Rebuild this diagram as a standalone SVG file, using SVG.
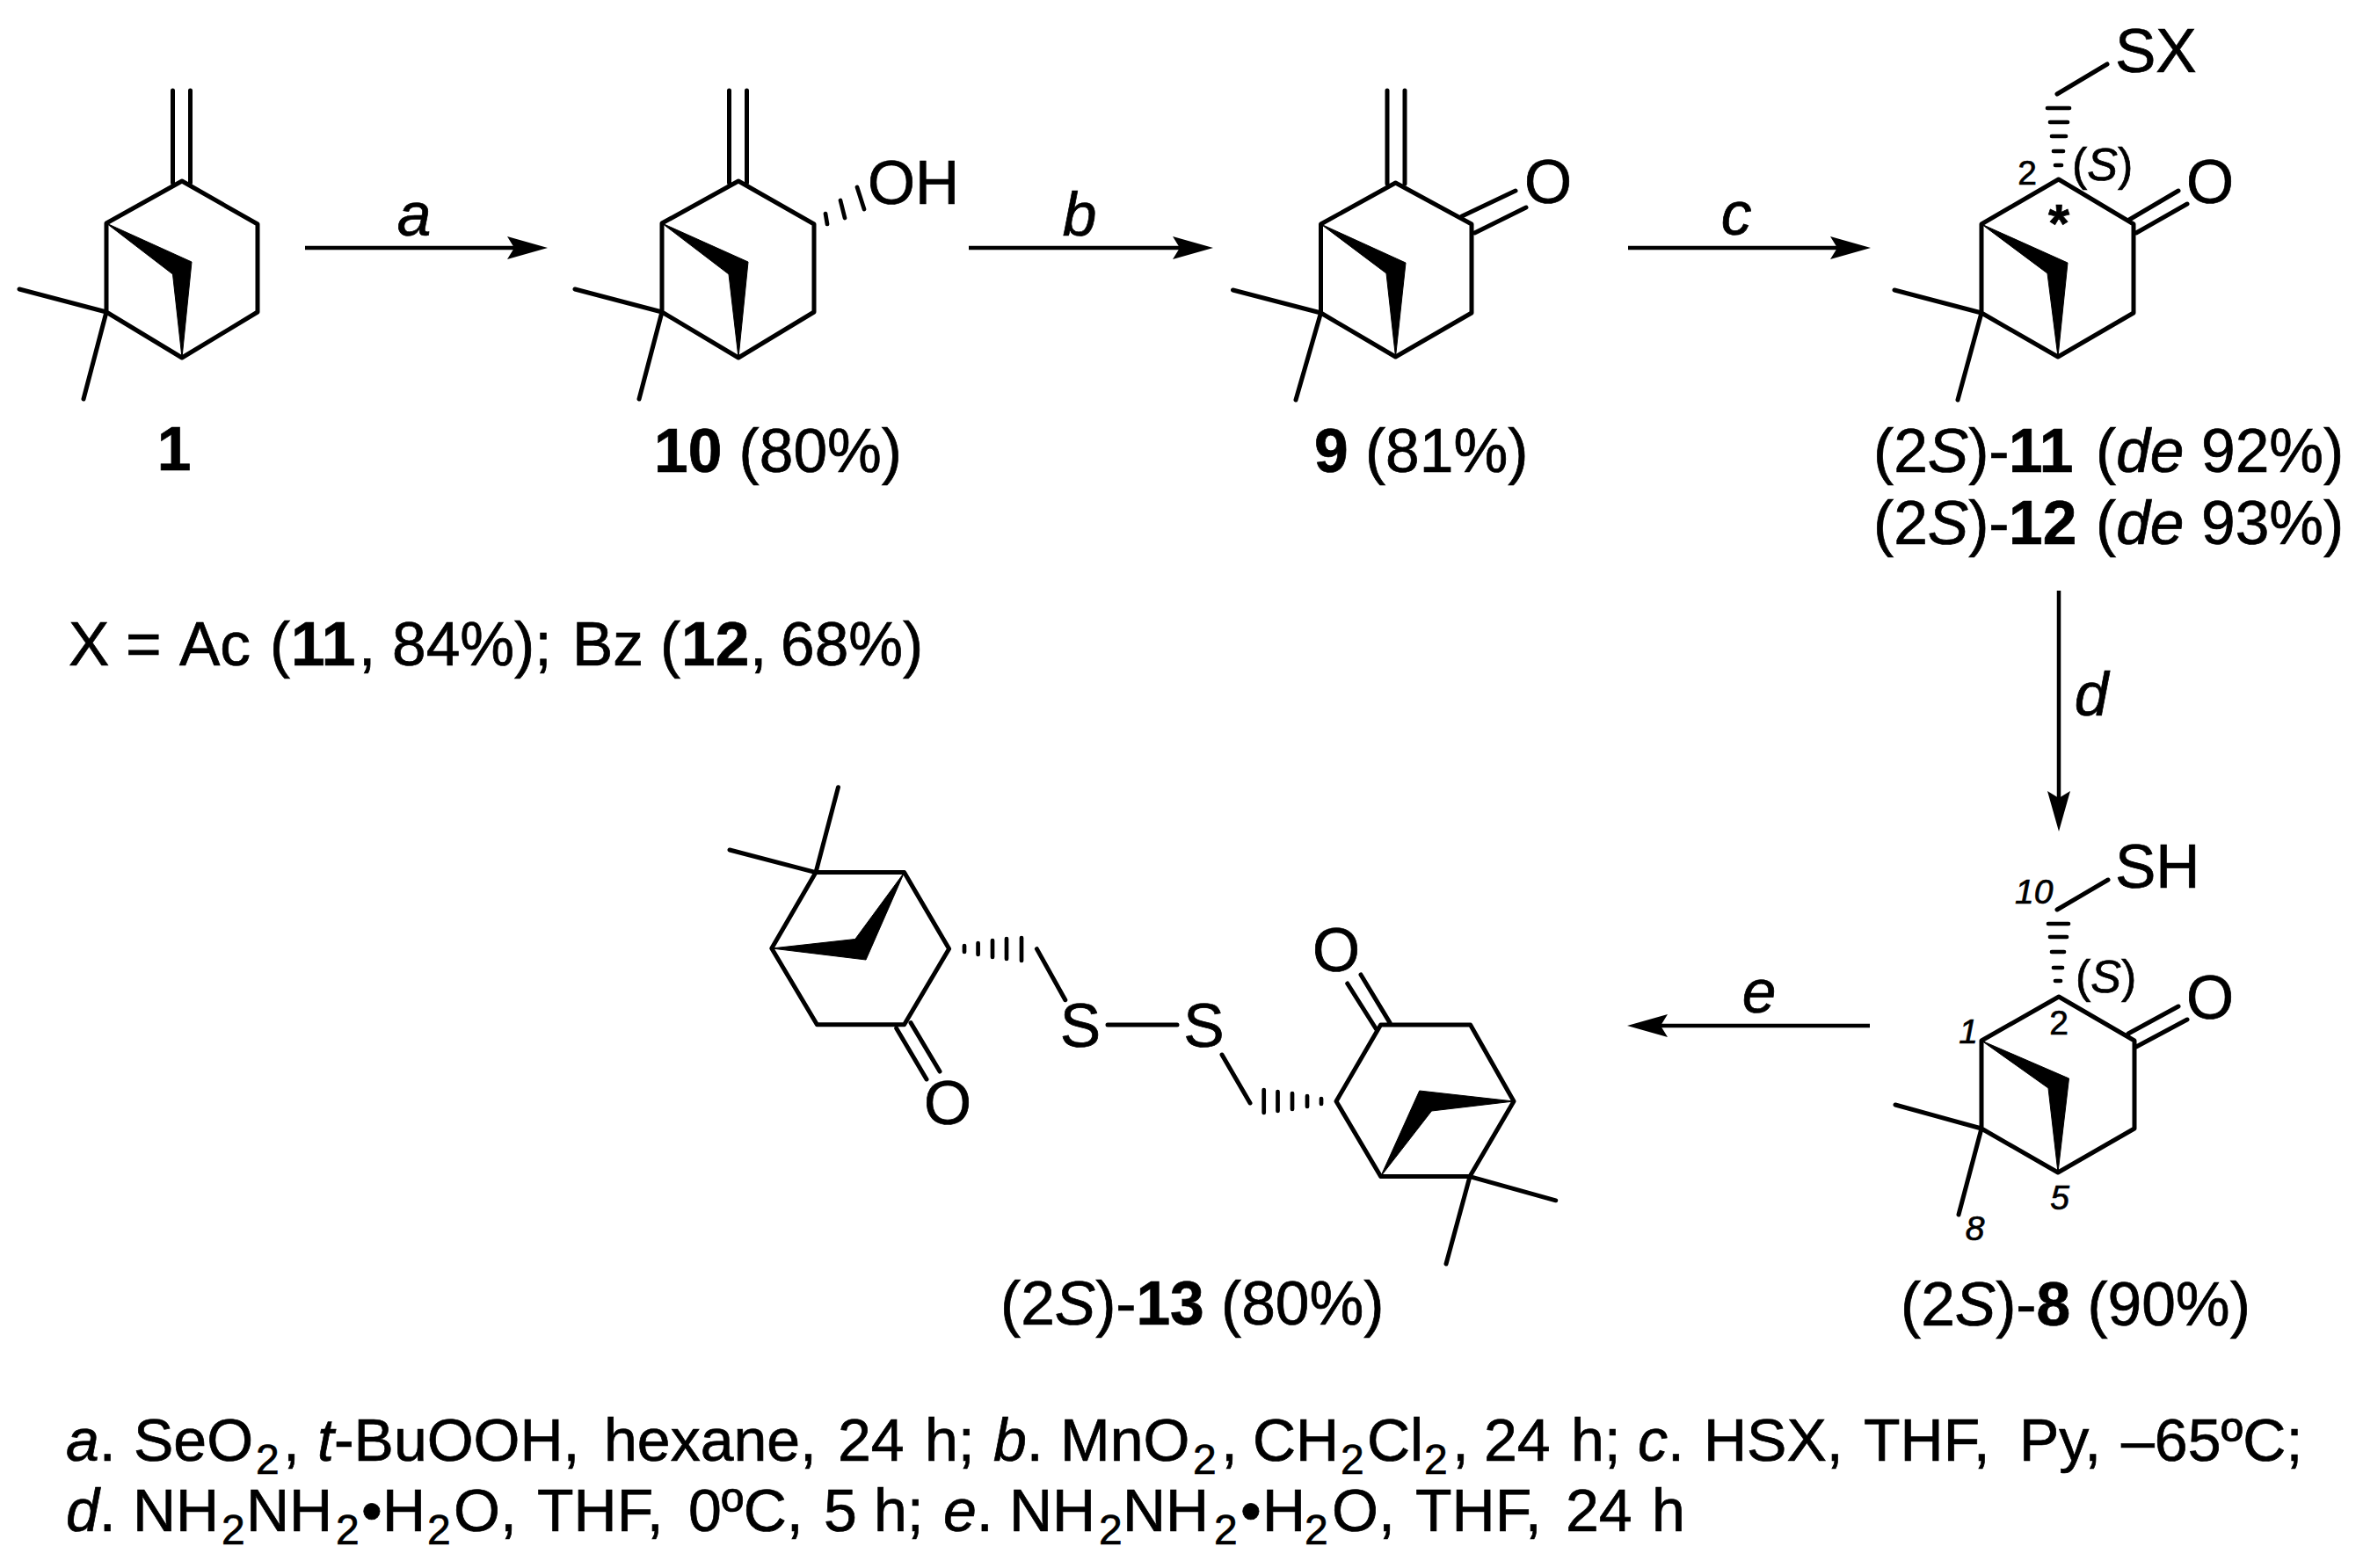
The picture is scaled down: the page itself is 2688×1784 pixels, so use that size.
<svg xmlns="http://www.w3.org/2000/svg" width="2688" height="1784" viewBox="0 0 2688 1784">
<style>
text{font-family:"Liberation Sans",Arial,sans-serif;fill:#000;stroke:#000;stroke-width:.7}
.t{font-size:69.5px}
.m{font-size:52px}
.s{font-size:39px;font-style:italic}
.n{font-size:39px}
.r{font-size:68px}
.u{font-size:48px}
.b{font-weight:bold}
.i{font-style:italic}
.c{text-anchor:middle}
.bond{fill:none;stroke:#000;stroke-width:5;stroke-linecap:round;stroke-linejoin:round}
.hash{fill:none;stroke:#000;stroke-width:4.7;stroke-linecap:round}
.wedge{fill:#000;stroke:#000;stroke-width:1}
.arrow{fill:none;stroke:#000;stroke-width:4.5;marker-end:url(#head)}
</style>
<defs>
<marker id="head" markerUnits="userSpaceOnUse" viewBox="0 0 46 26" refX="8" refY="13" markerWidth="46" markerHeight="26" orient="auto"><path d="M0,0L46,13L0,26L8,13Z" fill="#000"/></marker>
</defs>
<rect width="2688" height="1784" fill="#fff"/>
<g id="connectors">
<line class="arrow" x1="347" y1="282" x2="585" y2="282"/>
<line class="arrow" x1="1102" y1="282" x2="1342" y2="282"/>
<line class="arrow" x1="1852" y1="282" x2="2090" y2="282"/>
<line class="arrow" x1="2342" y1="672" x2="2342" y2="908"/>
<line class="arrow" x1="2127" y1="1167" x2="1889" y2="1167"/>
<text class="t i c" x="471" y="268">a</text>
<text class="t i c" x="1228" y="268">b</text>
<text class="t i c" x="1975" y="267">c</text>
<text class="t i c" x="2379" y="814">d</text>
<text class="t i c" x="2001" y="1152">e</text>
</g>
<g id="node-1">
<path class="bond" d="M207,206L121,254V355L207,407L293,355V255ZM196.5,103V208M216.5,103V208M121,355L22,329M121,355L95,454"/>
<polygon class="wedge" points="121,254 218,298 207,407 196.5,312"/>
<text class="t b c" x="198" y="535">1</text>
</g>
<g id="node-10">
<path class="bond" d="M840,206L753,254V355L840,407L926,355V255ZM829.5,103V208M849.5,103V208M753,355L654,329M753,355L727,454"/>
<polygon class="wedge" points="753,254 851,298 840,407 829,312"/>
<path class="hash" d="M941,255L939,243M961,248L956,228M983,238L975,213"/>
<text class="t" x="987" y="232">OH</text>
<text class="t" x="744" y="537"><tspan class="b">10</tspan> (80%)</text>
</g>
<g id="node-9">
<path class="bond" d="M1587.5,208L1502.5,255V356L1587.5,406L1674,356V255ZM1578,103V209M1598,103V209M1502.5,356L1402.5,330M1502.5,356L1474,455M1663,246L1724,217M1677.5,265L1736,236"/>
<polygon class="wedge" points="1502.5,255 1599,299 1587.5,406 1577,311"/>
<text class="t c" x="1761" y="231">O</text>
<text class="t" x="1495" y="537"><tspan class="b">9</tspan> (81%)</text>
</g>
<g id="node-11">
<path class="bond" d="M2341.7,204L2254,255V356L2341,406L2427,356V255ZM2254,356L2155,330M2254,356L2227,455M2422,250L2478,217M2430,265L2488,232M2340,107L2397,73"/>
<polygon class="wedge" points="2254,255 2352,299 2341,406 2329,311"/>
<path class="hash" d="M2329,123H2354M2332,139H2352M2334,155H2350M2336,172H2347M2338,188H2345"/>
<text class="t" x="2406" y="82">SX</text>
<text class="t c" x="2514" y="231">O</text>
<text class="m" x="2357" y="205">(<tspan class="i">S</tspan>)</text>
<text class="n c" x="2306" y="210">2</text>
<text class="b c" style="font-size:62px" x="2342" y="275">*</text>
<text class="t" y="537"><tspan x="2131">(2<tspan class="i">S</tspan>)-</tspan><tspan x="2285" class="b">11</tspan><tspan x="2384">(<tspan class="i">de</tspan></tspan><tspan x="2504">92%)</tspan></text>
<text class="t" y="619"><tspan x="2131">(2<tspan class="i">S</tspan>)-</tspan><tspan x="2285" class="b">12</tspan><tspan x="2384">(<tspan class="i">de</tspan></tspan><tspan x="2504">93%)</tspan></text>
</g>
<g id="node-8">
<path class="bond" d="M2342,1134L2254,1184V1284L2341,1334L2428,1284V1184ZM2254,1284L2156,1257M2254,1284L2228,1382M2421,1176L2478,1145M2430,1191L2488,1160M2340,1035L2398,1001"/>
<polygon class="wedge" points="2254,1184 2353.5,1227 2341,1334 2330,1238"/>
<path class="hash" d="M2330,1051H2353M2332,1066H2351M2334,1083H2348M2336,1101H2346M2338,1116H2344"/>
<text class="t" x="2406" y="1010">SH</text>
<text class="t c" x="2514" y="1159">O</text>
<text class="m" x="2361" y="1129">(<tspan class="i">S</tspan>)</text>
<text class="s" x="2292" y="1028">10</text>
<text class="n c" x="2342" y="1177">2</text>
<text class="s c" x="2239" y="1187">1</text>
<text class="s c" x="2343" y="1376">5</text>
<text class="s c" x="2246.5" y="1411">8</text>
<text class="t" x="2162" y="1508">(2<tspan class="i">S</tspan>)-<tspan class="b">8</tspan> (90%)</text>
</g>
<g id="node-13">
<path class="bond" d="M928,992.6H1028.6L1079.6,1079.6L1028.6,1165.8H929.4L877.8,1079ZM928,992.6L953.5,895.7M928,992.6L830,967M1019.7,1170L1054,1228M1036,1163.6L1069,1219M1179.4,1079.6L1211.8,1137.7M1260,1166H1339M1390,1200L1422,1255"/>
<path class="bond" d="M1570.6,1166H1672.6L1722,1253L1672,1338.6H1570.6L1520,1253ZM1672,1338.6L1769.7,1365.8M1672,1338.6L1645,1438M1532.7,1119L1566.5,1172.5M1548,1109L1581,1163.6"/>
<polygon class="wedge" points="877.8,1079 972.8,1068.5 1028.6,992.6 985,1092"/>
<polygon class="wedge" points="1722,1253 1614.7,1241 1570.6,1338.6 1628.5,1264"/>
<path class="hash" d="M1097,1076V1083M1112.6,1073V1086M1129,1070V1089M1145,1068V1091M1162,1067V1093M1503,1250V1256M1487,1247V1259M1470,1244V1262M1453.5,1242V1264M1437.7,1240V1266"/>
<text class="t c" x="1078" y="1279">O</text>
<text class="t c" x="1229" y="1191">S</text>
<text class="t c" x="1369.5" y="1191">S</text>
<text class="t c" x="1520" y="1105">O</text>
<text class="t" x="1138" y="1507">(2<tspan class="i">S</tspan>)-<tspan class="b">13</tspan> (80%)</text>
</g>
<g id="note">
<text class="t" y="757"><tspan x="78">X</tspan><tspan x="143">=</tspan><tspan x="204">Ac</tspan><tspan x="307">(</tspan><tspan x="331" class="b">11</tspan><tspan x="408">,</tspan><tspan x="446">84%);</tspan><tspan x="651">Bz</tspan><tspan x="751">(</tspan><tspan x="775" class="b">12</tspan><tspan x="853">,</tspan><tspan x="888">68%)</tspan></text>
</g>
<g id="conditions">
<text class="r" y="1662"><tspan x="75" class="i">a</tspan>.<tspan x="152">SeO</tspan><tspan class="u" x="291" dy="15">2</tspan><tspan x="322" dy="-15">,</tspan><tspan x="361" class="i">t</tspan>-BuOOH,<tspan x="687">hexane,</tspan><tspan x="953">24</tspan><tspan x="1052">h;</tspan><tspan x="1130" class="i">b</tspan>.<tspan x="1206">MnO</tspan><tspan class="u" x="1357" dy="15">2</tspan><tspan x="1389" dy="-15">,</tspan><tspan x="1425">CH</tspan><tspan class="u" x="1525" dy="15">2</tspan><tspan x="1555" dy="-15">Cl</tspan><tspan class="u" x="1620" dy="15">2</tspan><tspan x="1652" dy="-15">,</tspan><tspan x="1688">24</tspan><tspan x="1787">h;</tspan><tspan x="1863" class="i">c</tspan>.<tspan x="1938">HSX,</tspan><tspan x="2120">THF,</tspan><tspan x="2297">Py,</tspan><tspan x="2413">–65ºC;</tspan></text>
<text class="r" y="1742"><tspan x="75" class="i">d</tspan>.<tspan x="151">NH</tspan><tspan class="u" x="252" dy="15">2</tspan><tspan x="280" dy="-15">NH</tspan><tspan class="u" x="382" dy="15">2</tspan><tspan x="411" dy="-15">•</tspan><tspan x="435">H</tspan><tspan class="u" x="486" dy="15">2</tspan><tspan x="516" dy="-15">O,</tspan><tspan x="611">THF,</tspan><tspan x="783">0ºC,</tspan><tspan x="937">5</tspan><tspan x="994">h;</tspan><tspan x="1073" class="i">e</tspan>.<tspan x="1148">NH</tspan><tspan class="u" x="1250" dy="15">2</tspan><tspan x="1277" dy="-15">NH</tspan><tspan class="u" x="1381" dy="15">2</tspan><tspan x="1411" dy="-15">•</tspan><tspan x="1436">H</tspan><tspan class="u" x="1484" dy="15">2</tspan><tspan x="1515" dy="-15">O,</tspan><tspan x="1610">THF,</tspan><tspan x="1781">24</tspan><tspan x="1879">h</tspan></text>
</g>
</svg>
